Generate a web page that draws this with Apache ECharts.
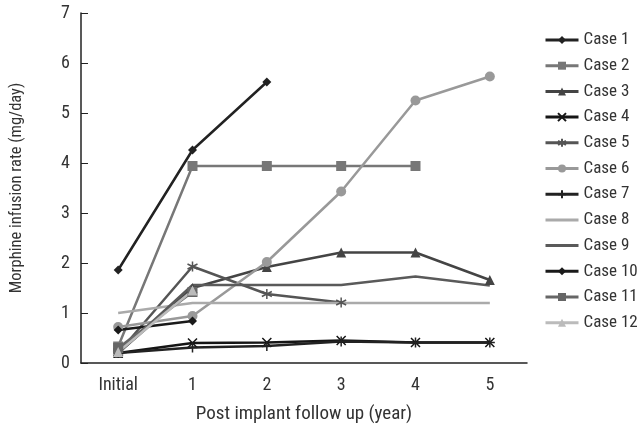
<!DOCTYPE html>
<html><head><meta charset="utf-8">
<script src="https://cdn.jsdelivr.net/npm/echarts@6/dist/echarts.min.js"></script>
<style>html,body{margin:0;padding:0;background:#fff}#c{width:638px;height:429px}</style>
</head><body><div id="c"></div>
<script>
const categories = ['Initial', '1', '2', '3', '4', '5'];
const yTicks = [0, 1, 2, 3, 4, 5, 6, 7];
const case1 = [1.86, 4.26, 5.62, null, null, null];
const case2 = [0.33, 3.94, 3.94, 3.94, 3.94, null];
const case3 = [0.2, 1.5, 1.92, 2.21, 2.21, 1.66];
const case4 = [0.2, 0.40, 0.41, 0.45, 0.41, 0.41];
const case5 = [0.2, 1.93, 1.38, 1.21, null, null];
const case6 = [0.72, 0.94, 2.02, 3.43, 5.25, 5.73];
const case7 = [0.2, 0.31, 0.34, 0.43, 0.41, 0.41];
const case8 = [1.0, 1.2, 1.2, 1.2, 1.2, 1.2];
const case9 = [0.2, 1.56, 1.56, 1.56, 1.73, 1.55];
const case10 = [0.66, 0.84, null, null, null, null];
const case11 = [0.3, 1.42, null, null, null, null];
const case12 = [0.22, 1.45, null, null, null, null];

const FONT = "'Roboto Condensed', 'Liberation Sans Narrow', Roboto, sans-serif";
const X = 'path://M0,0L10,10M10,0L0,10';
const STAR = 'path://M5,0L5,10M0,2.5L10,7.5M10,2.5L0,7.5';
const PLUS = 'path://M5,0L5,10M0,5L10,5';

const defs = [
  ['Case 1', case1, '#222222', 'diamond', 9],
  ['Case 2', case2, '#777777', 'rect', 10],
  ['Case 3', case3, '#444444', 'triangle', 10],
  ['Case 4', case4, '#151515', X, 9],
  ['Case 5', case5, '#555555', STAR, 10],
  ['Case 6', case6, '#999999', 'circle', 10],
  ['Case 7', case7, '#222222', PLUS, 10],
  ['Case 8', case8, '#aaaaaa', 'none', 0],
  ['Case 9', case9, '#5a5a5a', 'none', 0],
  ['Case 10', case10, '#1a1a1a', 'diamond', 9],
  ['Case 11', case11, '#666666', 'rect', 10],
  ['Case 12', case12, '#bbbbbb', 'triangle', 10]
];

const series = defs.map(d => {
  const isPath = d[3].startsWith('path://');
  return {
    name: d[0], type: 'line', data: d[1],
    symbol: d[3], symbolSize: d[4] || 1, showSymbol: d[3] !== 'none',
    connectNulls: false,
    lineStyle: {color: d[2], width: 2.5},
    itemStyle: isPath ? {color: d[2], borderColor: d[2], borderWidth: 1.5} : {color: d[2], borderColor: d[2], borderWidth: 0},
    emphasis: {disabled: true},
    animation: false
  };
});

const chart = echarts.init(document.getElementById('c'));
chart.setOption({
  animation: false,
  backgroundColor: '#fff',
  grid: {left: 77, top: 13, right: 111, bottom: 65, containLabel: false},
  legend: {
    orient: 'vertical', left: 539, top: 26.5, itemGap: 8.7, itemWidth: 33, itemHeight: 10,
    textStyle: {fontFamily: FONT, fontSize: 17, color: '#333'},
    lineStyle: {width: 3},
    data: defs.map(d => d[3] === 'none' ? {name: d[0], itemStyle: {opacity: 0}} : d[0])
  },
  xAxis: {
    type: 'category', data: categories, boundaryGap: true,
    name: 'Post implant follow up (year)', nameLocation: 'middle', nameGap: 42,
    nameTextStyle: {fontFamily: FONT, fontSize: 19, color: '#333'},
    axisLine: {lineStyle: {color: '#222', width: 1.5}},
    axisTick: {alignWithLabel: true, inside: true, length: 7, lineStyle: {color: '#222', width: 1}},
    axisLabel: {fontFamily: FONT, fontSize: 18, color: '#333', margin: 13},
    splitLine: {show: false}
  },
  yAxis: {
    type: 'value', min: 0, max: 7, interval: 1,
    name: 'Morphine infusion rate (mg/day)', nameLocation: 'middle', nameGap: 56,
    nameTextStyle: {fontFamily: FONT, fontSize: 16.5, color: '#333'},
    axisLine: {show: true, lineStyle: {color: '#222', width: 1.5}},
    axisTick: {show: true, inside: true, length: 7, lineStyle: {color: '#222', width: 1}},
    axisLabel: {fontFamily: FONT, fontSize: 18, color: '#333', margin: 11,
      formatter: v => yTicks.includes(v) ? String(v) : ''},
    splitLine: {show: false}
  },
  series: series
});
</script></body></html>
